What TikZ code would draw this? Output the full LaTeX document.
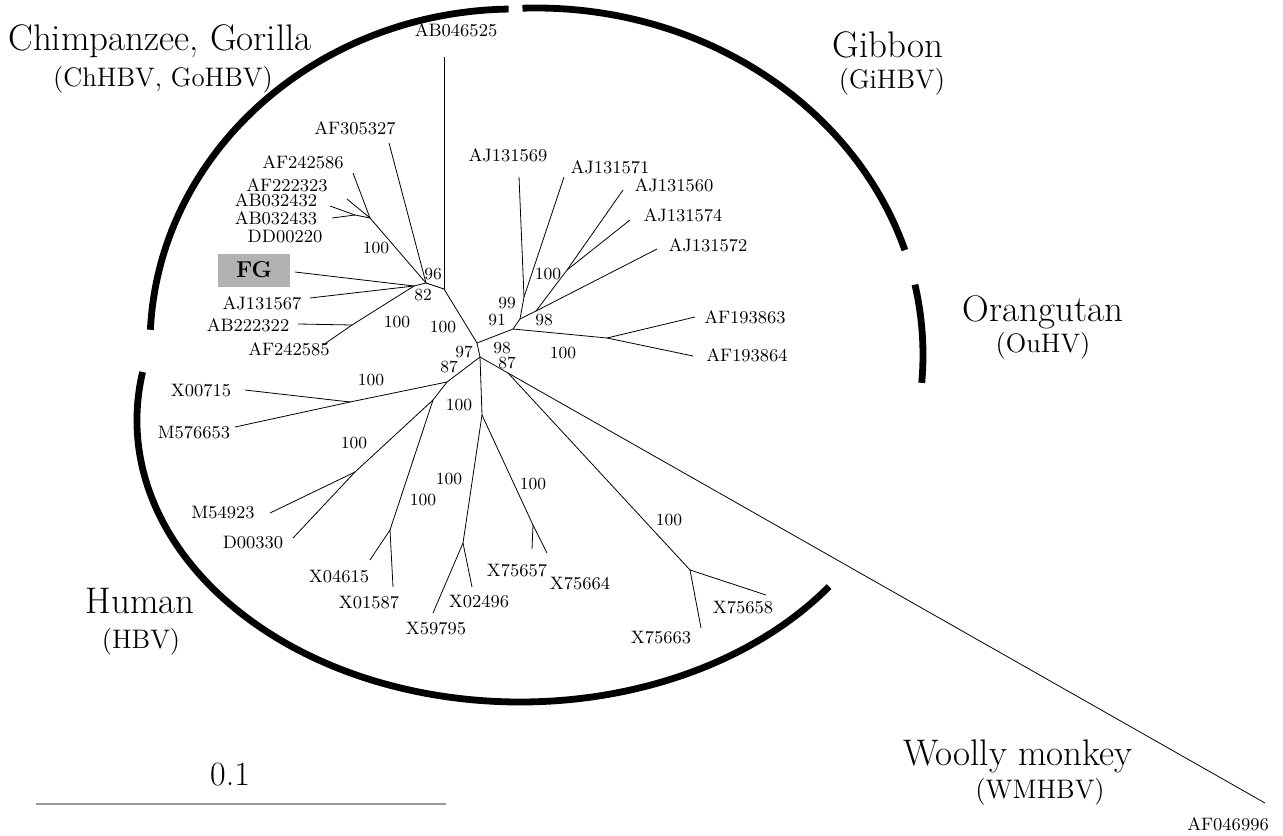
\documentclass[tikz,border=0pt]{standalone}
\usepackage{tikz}

\begin{document}
\begin{tikzpicture}[x=0.5pt,y=-0.5pt,
 branch/.style ={-,draw=black,line width=0.4pt},
 hostarc/.style ={-,draw=black,line width=3.4pt},
 scalebar/.style ={-,draw=black!40,line width=0.7pt},
 taxon/.style ={font=\fontsize{9}{10}\selectfont,inner sep=0pt},
 boot/.style ={font=\fontsize{8.5}{10}\selectfont,inner sep=0pt},
 host/.style ={font=\fontsize{18.5}{22}\selectfont,inner sep=0pt,anchor=base},
 hostcode/.style ={font=\fontsize{13.4}{16}\selectfont,inner sep=0pt,anchor=base},
 scalelabel/.style ={font=\fontsize{17}{20}\selectfont,inner sep=0pt,anchor=base},
 fgbox/.style ={fill=black!30,font=\fontsize{11.5}{13}\selectfont\bfseries,minimum width=36pt,minimum height=16.5pt,inner sep=0pt}
 ]
\useasboundingbox (0,0) rectangle (1283,835);
%internal nodes of the tree
\coordinate (nA) at (444,289);
\coordinate (nB) at (426,283);
\coordinate (nC) at (414,286);
\coordinate (nS1) at (370,218);
\coordinate (nS2) at (355,215);
\coordinate (nD) at (352,325);
\coordinate (nE) at (477,343);
\coordinate (nF) at (513,329);
\coordinate (nH) at (520,319);
\coordinate (nI) at (524,297);
\coordinate (nJ) at (536,311);
\coordinate (nK) at (567,270);
\coordinate (nU) at (607,338);
\coordinate (nG) at (480,357);
\coordinate (nL) at (447,382);
\coordinate (nX) at (350,402);
\coordinate (nM) at (433,400);
\coordinate (nN) at (355,472);
\coordinate (nO) at (390,530);
\coordinate (nP) at (482,415);
\coordinate (nQ) at (463,543);
\coordinate (nR) at (533,525);
\coordinate (nV) at (508,373);
\coordinate (nW) at (690,570);
%free ends of the branches
\foreach \name/\x/\y in {AB046525/444/57, AF305327/389/143, AF242586/353/173,
  AF222323/347/199, AB032432/330/206, AB032433/332/218, FG/295/272,
  AJ131567/310/298, AB222322/298/324, AF242585/323/345, AJ131569/519/177,
  AJ131571/564/177, AJ131560/623/190, AJ131574/630/220, AJ131572/657/249,
  AF193863/695/317, AF193864/693/356, X00715/245/390, M576653/235/427,
  M54923/270/513, D00330/293/538, X04615/370/560, X01587/393/587,
  X59795/433/613, X02496/472/587, X75657/532/549, X75664/547/553,
  X75658/766/595, X75663/701/628, AF046996/1265/803}
  \coordinate (t\name) at (\x,\y);
%draw branches
\foreach \a/\b in {nA/tAB046525, nA/nB, nB/tAF305327, nB/nS1, nS1/tAF242586,
  nS1/tAF222323, nS1/nS2, nS2/tAB032432, nS2/tAB032433, nB/nC, nC/tFG,
  nC/tAJ131567, nC/nD, nD/tAB222322, nD/tAF242585, nA/nE, nE/nF, nF/nH,
  nH/nI, nI/tAJ131569, nI/tAJ131571, nH/nJ, nJ/tAJ131572, nJ/nK,
  nK/tAJ131560, nK/tAJ131574, nF/nU, nU/tAF193863, nU/tAF193864, nE/nG,
  nG/nL, nL/nX, nX/tX00715, nX/tM576653, nL/nM, nM/nN, nN/tM54923,
  nN/tD00330, nM/nO, nO/tX04615, nO/tX01587, nG/nP, nP/nQ, nQ/tX59795,
  nQ/tX02496, nP/nR, nR/tX75657, nR/tX75664, nG/nV, nV/tAF046996, nV/nW,
  nW/tX75658, nW/tX75663}
  \draw[branch] (\a) -- (\b);
%draw taxon labels
\foreach \name/\x/\y in {AB046525/456/30, AF305327/355/128, AF242586/303/162,
  AF222323/287/185, AB032432/276/200, AB032433/276/218, DD00220/285/237,
  AJ131567/262/303, AB222322/248/325, AF242585/289/349, AJ131569/508/155,
  AJ131571/610/167, AJ131560/674/185, AJ131574/683/215, AJ131572/708/245,
  AF193863/745/317, AF193864/747/355, X00715/201/391, M576653/194/433,
  M54923/223/513, D00330/253/543, X04615/339/577, X01587/369/603,
  X59795/436/629, X02496/479/602, X75657/517/571, X75664/580/584,
  X75658/743/608, X75663/661/638, AF046996/1228/824}
  \node[taxon] (l\name) at (\x,\y) {\name};
\node[fgbox] (FG) at (254,270) {FG};
%draw bootstrap values
\foreach \v/\x/\y [count=\i] in {96/433/274, 82/423/295, 100/376/248,
  100/397/322, 100/443/327, 97/464/352, 87/449/367, 98/502/348, 87/507/363,
  91/497/320, 99/507/303, 98/544/320, 100/563/353, 100/548/274, 100/371/380,
  100/354/443, 100/423/500, 100/459/405, 100/449/479, 100/533/484, 100/669/520}
  \node[boot] (b\i) at (\x,\y) {\v};
%draw host arcs
\draw[hostarc] (515,345) ++(182.6:365 and 336) arc[start angle=182.6,end angle=269,x radius=365,y radius=336];
\draw[hostarc] (536,355) ++(268:387 and 347) arc[start angle=268,end angle=342.4,x radius=387,y radius=347];
\draw[hostarc] (536,355) ++(348.3:387 and 347) arc[start angle=348.3,end angle=364.6,x radius=387,y radius=347];
\draw[hostarc] (520,420) ++(189.8:383 and 282) arc[start angle=189.8,end angle=36.2,x radius=383,y radius=282];
%draw host names
\node[host] (chimp) at (160,50) {Chimpanzee, Gorilla};
\node[hostcode] (chimpcode) at (163,86) {(ChHBV, GoHBV)};
\node[host] (gibbon) at (888,57) {Gibbon};
\node[hostcode] (gibboncode) at (892,88) {(GiHBV)};
\node[host] (orang) at (1043,321) {Orangutan};
\node[hostcode] (orangcode) at (1043,352) {(OuHV)};
\node[host] (human) at (140,613) {Human};
\node[hostcode] (humancode) at (141,648) {(HBV)};
\node[host] (woolly) at (1018,765) {Woolly monkey};
\node[hostcode] (woollycode) at (1040,798) {(WMHBV)};
%draw scale bar
\coordinate (sL) at (36,804);
\coordinate (sR) at (446,804);
\draw[scalebar] (sL) -- (sR);
\node[scalelabel] (scale) at (230,785) {0.1};
\end{tikzpicture}
\end{document}
